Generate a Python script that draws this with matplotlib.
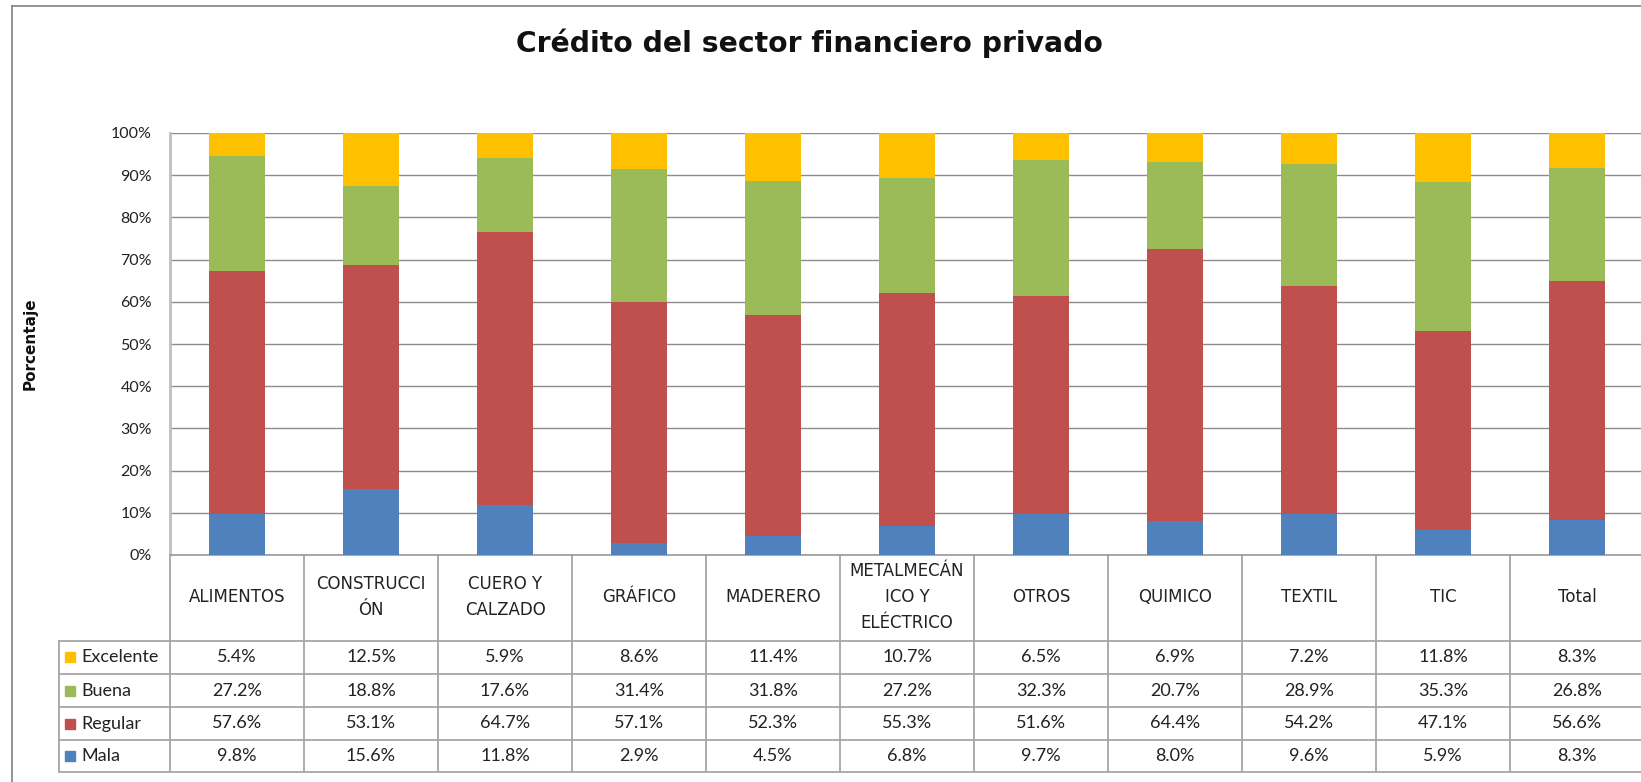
import matplotlib
matplotlib.use("Agg")
import matplotlib.pyplot as plt
import matplotlib.transforms as mtransforms
from matplotlib.lines import Line2D
import numpy as np

# categorias y porcentajes por calificacion
sectores = ["ALIMENTOS", "CONSTRUCCI\nÓN", "CUERO Y\nCALZADO", "GRÁFICO", "MADERERO",
            "METALMECÁN\nICO Y\nELÉCTRICO", "OTROS", "QUIMICO", "TEXTIL", "TIC", "Total"]
mala = [9.8, 15.6, 11.8, 2.9, 4.5, 6.8, 9.7, 8.0, 9.6, 5.9, 8.3]
regular = [57.6, 53.1, 64.7, 57.1, 52.3, 55.3, 51.6, 64.4, 54.2, 47.1, 56.6]
buena = [27.2, 18.8, 17.6, 31.4, 31.8, 27.2, 32.3, 20.7, 28.9, 35.3, 26.8]
excelente = [5.4, 12.5, 5.9, 8.6, 11.4, 10.7, 6.5, 6.9, 7.2, 11.8, 8.3]

series = [("Mala", mala, "#4F81BD"), ("Regular", regular, "#C0504D"),
          ("Buena", buena, "#9BBB59"), ("Excelente", excelente, "#FFC000")]

W, H = 1641, 782
fig = plt.figure(figsize=(W / 100, H / 100), dpi=100)
fig.patch.set_facecolor("white")

def fy(py):
    return 1 - py / H

ax = fig.add_axes([170 / W, fy(555), 1474 / W, 422 / H])

x = np.arange(len(sectores))
base = np.zeros(len(sectores))
for nombre, vals, color in series:
    v = np.array(vals) / 100
    ax.bar(x, v, width=0.42, bottom=base, color=color, zorder=3)
    base += v

ax.set_xlim(-0.5, len(sectores) - 0.5)
ax.set_ylim(0, 1)
ax.set_yticks(np.arange(0, 1.01, 0.1))
ax.set_yticklabels([f"{int(round(t * 100))}%" for t in np.arange(0, 1.01, 0.1)],
                   fontsize=11.5, family="Lato", color="#222222")
ax.tick_params(axis="y", length=0, pad=13)
ax.set_xticks([])
ax.yaxis.grid(True, color="#8c8c8c", lw=1, zorder=0)
for s in ["top", "right"]:
    ax.spines[s].set_visible(False)
ax.spines["left"].set_color("#bfbfbf")
ax.spines["left"].set_linewidth(2)
ax.spines["bottom"].set_color("#999999")
ax.spines["bottom"].set_linewidth(1.2)

# tabla de datos bajo el grafico
tr = mtransforms.blended_transform_factory(ax.transData, fig.transFigure)
left_col = -0.5 - 111 / 134
right_end = len(sectores) - 0.5
filas_y = [640.5, 674, 707, 740, 772]
lc = "#a6a6a6"

for py in filas_y:
    ax.add_line(Line2D([left_col, right_end], [fy(py), fy(py)], transform=tr,
                       color=lc, lw=1.3, clip_on=False))
for i in range(len(sectores) + 1):
    xb = i - 0.5
    ax.add_line(Line2D([xb, xb], [fy(555), fy(772)], transform=tr,
                       color=lc, lw=1.3, clip_on=False))
ax.add_line(Line2D([left_col, left_col], [fy(640.5), fy(772)], transform=tr,
                   color=lc, lw=1.3, clip_on=False))

for i, nombre in enumerate(sectores):
    ax.text(i, fy(597), nombre, transform=tr, ha="center", va="center",
            fontsize=12, family="DejaVu Sans", color="#222222", linespacing=1.55)

orden = list(reversed(series))
for r, (nombre, vals, color) in enumerate(orden):
    yc = fy((filas_y[r] + filas_y[r + 1]) / 2)
    ax.plot([-0.5 - 100 / 134], [yc], marker="s", ms=7.5, color=color,
            transform=tr, clip_on=False)
    ax.text(-0.5 - 89 / 134, yc, nombre, transform=tr, ha="left", va="center",
            fontsize=13, family="Lato", color="#222222")
    for i, v in enumerate(vals):
        ax.text(i, yc, f"{v:.1f}%", transform=tr, ha="center", va="center",
                fontsize=13, family="Lato", color="#222222")

# marco del grafico
fig.add_artist(Line2D([11.5 / W, 1], [fy(6), fy(6)], color="#808080", lw=1.2))
fig.add_artist(Line2D([11.5 / W, 11.5 / W], [fy(6), 0], color="#808080", lw=1.2))

fig.text(809 / W, fy(52.3), "Crédito del sector financiero privado", ha="center",
         va="baseline", fontsize=20.3, fontweight="bold", family="DejaVu Sans",
         color="#111111")
fig.text(30 / W, fy(344), "Porcentaje", rotation=90, ha="center", va="center",
         fontsize=11, fontweight="bold", family="DejaVu Sans", color="#111111")

fig.savefig("out.png", dpi=100)
